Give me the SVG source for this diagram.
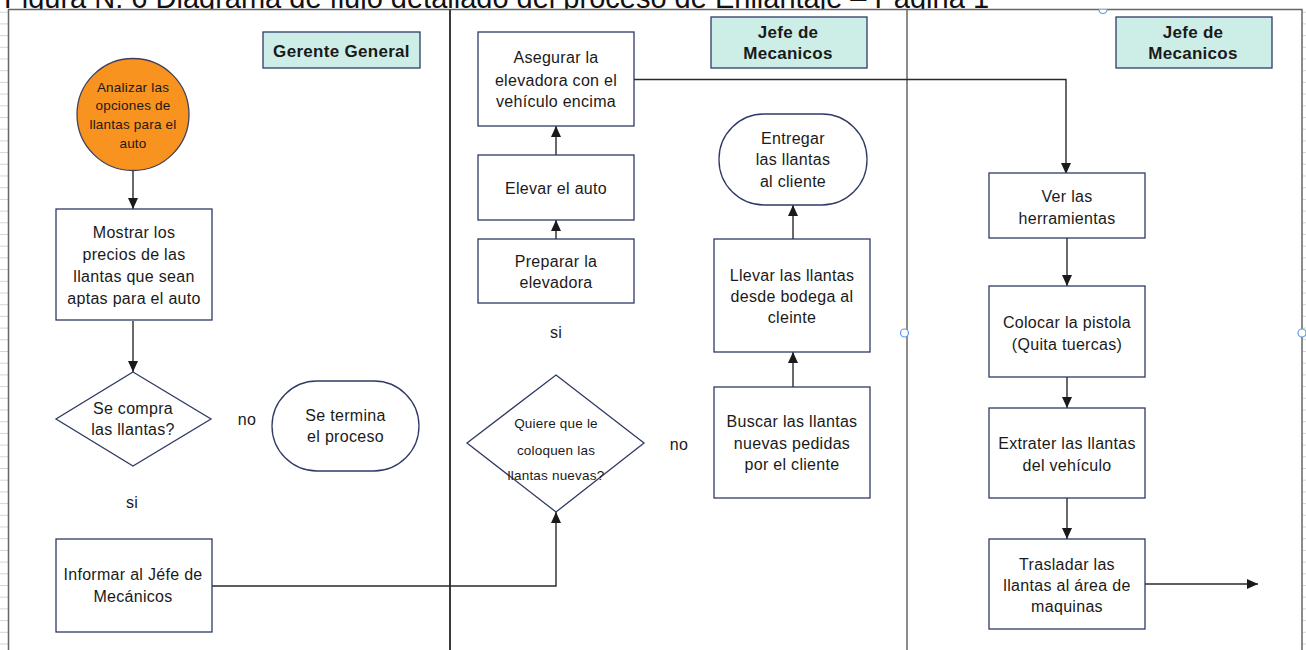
<svg xmlns="http://www.w3.org/2000/svg" width="1306" height="650" viewBox="0 0 1306 650">
  <defs>
    <style>
      .box { fill: #ffffff; stroke: #2f3a66; stroke-width: 1.3; }
      .hdr { fill: #cdeee6; stroke: #2f3a66; stroke-width: 1.3; }
      .t { font-family: "Liberation Sans", Arial, sans-serif; font-size: 16px; fill: #1a1a1a; text-anchor: middle; letter-spacing: 0.3px; }
      .ts { font-family: "Liberation Sans", Arial, sans-serif; font-size: 13.5px; fill: #1a1a1a; text-anchor: middle; letter-spacing: 0.2px; }
      .th { font-family: "Liberation Sans", Arial, sans-serif; font-size: 17px; font-weight: bold; fill: #1a1a1a; text-anchor: middle; letter-spacing: 0.3px; }
      .conn { fill: none; stroke: #2a2a2a; stroke-width: 1.4; }
      .lane { fill: none; stroke: #666666; stroke-width: 1.5; }
      .handle { fill: #ffffff; stroke: #5b9be6; stroke-width: 1.2; }
    </style>
    <marker id="arrow" markerUnits="userSpaceOnUse" markerWidth="12" markerHeight="10" refX="11" refY="5" orient="auto">
      <path d="M0,0 L11,5 L0,10 z" fill="#1a1a1a"/>
    </marker>
    <pattern id="grid" width="8" height="11.7" patternUnits="userSpaceOnUse">
      <line x1="0" y1="0.5" x2="8" y2="0.5" stroke="#d4d4d4" stroke-width="1"/>
    </pattern>
  </defs>

  <rect x="0" y="0" width="1306" height="650" fill="#ffffff"/>

  <!-- sheet gridline ticks in the margins -->
  <rect x="0" y="9" width="8" height="641" fill="url(#grid)"/>
  <rect x="1303" y="9" width="3" height="641" fill="url(#grid)"/>

  <!-- caption -->
  <text x="4" y="8" font-family="Liberation Sans, Arial, sans-serif" font-size="29" fill="#111">Figura N: 6 Diagrama de flujo detallado del proceso de Enllantaje – Página 1</text>

  <!-- swimlane frame -->
  <g id="lanes">
    <rect x="8.5" y="9.5" width="1293.5" height="660" fill="#ffffff" stroke="#666666" stroke-width="1.5"/>
    <line x1="450" y1="9.5" x2="450" y2="650" stroke="#3a3a3a" stroke-width="2"/>
    <line x1="907" y1="9.5" x2="907" y2="650" stroke="#666666" stroke-width="1.5"/>
  </g>

  <!-- connectors -->
  <g id="connectors">
    <path class="conn" d="M133,171 V209" marker-end="url(#arrow)"/>
    <path class="conn" d="M133,321 V372" marker-end="url(#arrow)"/>
    <path class="conn" d="M212,586 H556 V512" marker-end="url(#arrow)"/>
    <path class="conn" d="M556,239 V220" marker-end="url(#arrow)"/>
    <path class="conn" d="M556,155 V126" marker-end="url(#arrow)"/>
    <path class="conn" d="M634,79.5 H1066 V174" marker-end="url(#arrow)"/>
    <path class="conn" d="M793,387 V352" marker-end="url(#arrow)"/>
    <path class="conn" d="M793,239 V205" marker-end="url(#arrow)"/>
    <path class="conn" d="M1067,238 V286" marker-end="url(#arrow)"/>
    <path class="conn" d="M1067,377 V408" marker-end="url(#arrow)"/>
    <path class="conn" d="M1067,498 V539" marker-end="url(#arrow)"/>
    <path class="conn" d="M1145,584 H1258" marker-end="url(#arrow)"/>
  </g>

  <!-- lane 1: Gerente General -->
  <g id="hdr-gerente">
    <rect class="hdr" x="263" y="32" width="157" height="36"/>
    <text class="th" x="341.5" y="56.5" font-size="18">Gerente General</text>
  </g>
  <g id="n-analizar">
    <circle cx="133" cy="114.5" r="56" fill="#f7931e" stroke="#40405a" stroke-width="1.3"/>
    <text class="ts" x="133" y="91.5">Analizar las</text>
    <text class="ts" x="133" y="110.3">opciones de</text>
    <text class="ts" x="133" y="129">llantas para el</text>
    <text class="ts" x="133" y="147.7">auto</text>
  </g>
  <g id="n-mostrar">
    <rect class="box" x="56" y="209" width="156" height="111"/>
    <text class="t" x="134" y="238">Mostrar los</text>
    <text class="t" x="134" y="259.5">precios de las</text>
    <text class="t" x="134" y="281.5">llantas que sean</text>
    <text class="t" x="134" y="304">aptas para el auto</text>
  </g>
  <g id="n-compra">
    <polygon class="box" points="133,372 211,419 133,466 56,419"/>
    <text class="t" x="133" y="414">Se compra</text>
    <text class="t" x="133" y="435">las llantas?</text>
  </g>
  <g id="lbl-no-1"><text class="t" x="247" y="425">no</text></g>
  <g id="n-termina">
    <rect class="box" x="272" y="381" width="147" height="90" rx="45" ry="45"/>
    <text class="t" x="345.5" y="420.5">Se termina</text>
    <text class="t" x="345.5" y="442">el proceso</text>
  </g>
  <g id="lbl-si-1"><text class="t" x="132" y="507.5">si</text></g>
  <g id="n-informar">
    <rect class="box" x="56" y="539" width="156" height="93"/>
    <text class="t" x="133" y="579.5">Informar al Jéfe de</text>
    <text class="t" x="133" y="602">Mecánicos</text>
  </g>

  <!-- lane 2: Jefe de Mecanicos -->
  <g id="hdr-jefe-1">
    <rect class="hdr" x="711" y="17" width="156" height="51"/>
    <text class="th" x="788" y="37.7">Jefe de</text>
    <text class="th" x="788" y="59.3">Mecanicos</text>
  </g>
  <g id="n-asegurar">
    <rect class="box" x="478" y="32" width="156" height="94"/>
    <text class="t" x="556" y="62.8">Asegurar la</text>
    <text class="t" x="556" y="85.5">elevadora con el</text>
    <text class="t" x="556" y="107.2">vehículo encima</text>
  </g>
  <g id="n-elevar">
    <rect class="box" x="478" y="155" width="156" height="65"/>
    <text class="t" x="556" y="193.8">Elevar el auto</text>
  </g>
  <g id="n-preparar">
    <rect class="box" x="478" y="239" width="156" height="64"/>
    <text class="t" x="556" y="267.2">Preparar la</text>
    <text class="t" x="556" y="288.2">elevadora</text>
  </g>
  <g id="lbl-si-2"><text class="t" x="556" y="338">si</text></g>
  <g id="n-quiere">
    <polygon class="box" points="556,375 644,443 556,512 467,443"/>
    <text class="ts" x="556" y="428">Quiere que le</text>
    <text class="ts" x="556" y="454.7">coloquen las</text>
    <text class="ts" x="556" y="480.4">llantas nuevas?</text>
  </g>
  <g id="lbl-no-2"><text class="t" x="679" y="449.5">no</text></g>
  <g id="n-buscar">
    <rect class="box" x="714" y="387" width="156" height="111"/>
    <text class="t" x="792" y="426.5">Buscar las llantas</text>
    <text class="t" x="792" y="448.8">nuevas pedidas</text>
    <text class="t" x="792" y="469.8">por el cliente</text>
  </g>
  <g id="n-llevar">
    <rect class="box" x="714" y="239" width="156" height="113"/>
    <text class="t" x="792" y="280.5">Llevar las llantas</text>
    <text class="t" x="792" y="301.5">desde bodega al</text>
    <text class="t" x="792" y="323">cleinte</text>
  </g>
  <g id="n-entregar">
    <rect class="box" x="719" y="114" width="148" height="91" rx="45" ry="45"/>
    <text class="t" x="793" y="143.8">Entregar</text>
    <text class="t" x="793" y="164.8">las llantas</text>
    <text class="t" x="793" y="187.2">al cliente</text>
  </g>

  <!-- lane 3: Jefe de Mecanicos -->
  <g id="hdr-jefe-2">
    <rect class="hdr" x="1116" y="17" width="156" height="51"/>
    <text class="th" x="1193" y="37.7">Jefe de</text>
    <text class="th" x="1193" y="59.3">Mecanicos</text>
  </g>
  <g id="n-ver">
    <rect class="box" x="989" y="173" width="156" height="65"/>
    <text class="t" x="1067" y="201.5">Ver las</text>
    <text class="t" x="1067" y="223.8">herramientas</text>
  </g>
  <g id="n-colocar">
    <rect class="box" x="989" y="286" width="156" height="91"/>
    <text class="t" x="1067" y="327.5">Colocar la pistola</text>
    <text class="t" x="1067" y="349.5">(Quita tuercas)</text>
  </g>
  <g id="n-extraer">
    <rect class="box" x="989" y="408" width="156" height="90"/>
    <text class="t" x="1067" y="448.8">Extrater las llantas</text>
    <text class="t" x="1067" y="471.2">del vehículo</text>
  </g>
  <g id="n-trasladar">
    <rect class="box" x="989" y="539" width="156" height="90"/>
    <text class="t" x="1067" y="569.5">Trasladar las</text>
    <text class="t" x="1067" y="590.5">llantas al área de</text>
    <text class="t" x="1067" y="612.2">maquinas</text>
  </g>

  <!-- selection handles -->
  <g id="handles">
    <path class="handle" d="M1099,9.5 A4,4 0 0 0 1107,9.5"/>
    <circle class="handle" cx="904.5" cy="333" r="4"/>
    <circle class="handle" cx="1302" cy="333" r="4"/>
  </g>
</svg>
